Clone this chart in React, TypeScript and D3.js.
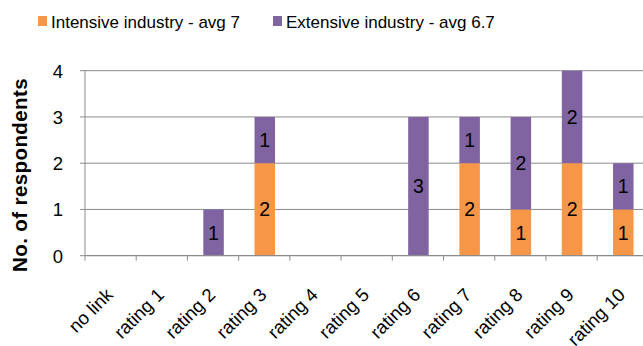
import React from "react";
import * as d3 from "d3";

const categories = ["no link", "rating 1", "rating 2", "rating 3", "rating 4", "rating 5", "rating 6", "rating 7", "rating 8", "rating 9", "rating 10"];
const intensive = [0, 0, 0, 2, 0, 0, 0, 2, 1, 2, 1];
const extensive = [0, 0, 1, 1, 0, 0, 3, 1, 2, 2, 1];
const seriesNames = ["Intensive industry - avg 7", "Extensive industry - avg 6.7"];
const yTicks = [0, 1, 2, 3, 4];

const COLORS = ["#F79646", "#8064A2"];
const GRID = "#8c8c8c";
const FONT = "'Liberation Sans', Arial, sans-serif";

export default function App() {
  const W = 643, H = 346;
  const left = 85, plotRight = 648.4, top = 70.7, bottom = 255.7;
  const x = d3.scaleBand<string>().domain(categories).range([left, plotRight]);
  const step = x.step();
  const y = d3.scaleLinear().domain([0, 4]).range([bottom, top]);
  const bw = 20.5;

  const stackData = categories.map((c, i) => ({ c, a: intensive[i], b: extensive[i] }));
  const stack = d3.stack<any>().keys(["a", "b"])(stackData);

  return (
    <svg width={W} height={H} style={{ position: "absolute", left: 0, top: 0, background: "#fff" }} fontFamily={FONT}>
      {yTicks.slice(1).map((t) => (
        <line key={t} x1={left} x2={W} y1={y(t)} y2={y(t)} stroke={GRID} strokeWidth={1} />
      ))}
      {stack.map((s, si) =>
        s.map((d, i) => {
          const v = d[1] - d[0];
          if (v <= 0) return null;
          const cx = (x(categories[i]) as number) + step / 2 + 0.5;
          return (
            <g key={`${si}-${i}`}>
              <rect x={cx - bw / 2} y={y(d[1])} width={bw} height={y(d[0]) - y(d[1])} fill={COLORS[si]} />
              <text x={cx} y={(y(d[0]) + y(d[1])) / 2 + 7} textAnchor="middle" fontSize={19.5} fill="#000">{v}</text>
            </g>
          );
        })
      )}
      <line x1={left} x2={left} y1={top} y2={bottom} stroke={GRID} strokeWidth={1} />
      {yTicks.map((t) => (
        <g key={t}>
          <line x1={left - 5} x2={left} y1={y(t)} y2={y(t)} stroke={GRID} />
          <text x={63} y={y(t) + 7} textAnchor="end" fontSize={18.5} fill="#000">{t}</text>
        </g>
      ))}
      <line x1={left} x2={W} y1={bottom} y2={bottom} stroke={GRID} strokeWidth={1.3} />
      {categories.map((c) => (
        <line key={c} x1={x(c) as number} x2={x(c) as number} y1={bottom} y2={bottom + 5} stroke={GRID} />
      ))}
      {categories.map((c) => {
        const cx = (x(c) as number) + step / 2 + 3.5;
        const ty = 296;
        return (
          <text key={c} x={cx} y={ty} textAnchor="end" fontSize={18.5} fill="#000" transform={`rotate(-45 ${cx} ${ty})`}>{c}</text>
        );
      })}
      <text transform={`translate(27 ${175}) rotate(-90)`} textAnchor="middle" fontSize={20.5} fontWeight="bold" letterSpacing={0.4} fill="#000">No. of respondents</text>
      {seriesNames.map((n, i) => {
        const lx = [38, 273][i];
        return (
          <g key={n}>
            <rect x={lx} y={16} width={9} height={10} fill={COLORS[i]} />
            <text x={lx + 13} y={28} fontSize={17} fill="#000">{n}</text>
          </g>
        );
      })}
    </svg>
  );
}
